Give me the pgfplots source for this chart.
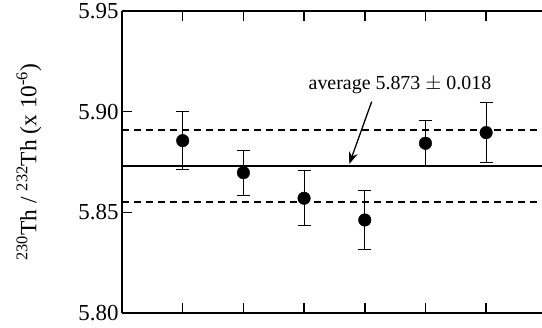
\documentclass[border=0pt]{standalone}
\usepackage{pgfplots}
\pgfplotsset{compat=1.18}
\usetikzlibrary{arrows.meta}
\usepackage{fontspec}
\setmainfont{Liberation Serif}
\begin{document}
\begin{tikzpicture}
\begin{axis}[
  scale only axis, width=420bp, height=302bp,
  xmin=0, xmax=6.92, ymin=5.80, ymax=5.95,
  axis x line*=box, axis y line*=left,
  axis line style={line width=1.6pt},
  xtick={1,2,3,4,5,6}, xticklabels={},
  ytick={5.80,5.85,5.90,5.95},
  tick align=inside, major tick length=10bp,
  tick style={line width=1.6pt, black},
  /pgf/number format/assume math mode=true,
  yticklabel style={font=\fontsize{23}{27}\selectfont, /pgf/number format/.cd, fixed, fixed zerofill, precision=2},
  ylabel={\textsuperscript{230}Th / \textsuperscript{232}Th (x 10\textsuperscript{-6})},
  ylabel style={at={(axis description cs:-0.2214,0.5)}, anchor=center, font=\fontsize{23.5}{28}\selectfont},
  clip=false,
]
\addplot[black, line width=1.5pt] coordinates {(0,5.873) (6.92,5.873)};
\addplot[black, line width=1.6pt, dash pattern=on 7bp off 5bp] coordinates {(0,5.891) (6.92,5.891)};
\addplot[black, line width=1.6pt, dash pattern=on 7bp off 5bp] coordinates {(0,5.855) (6.92,5.855)};
\addplot[only marks, mark=*, mark size=6.3bp, black,
  error bars/.cd, y dir=both, y explicit,
  error bar style={line width=0.8pt},
  error mark options={rotate=90, mark size=6.5bp, line width=0.8pt}]
coordinates {
(1,5.8856) += (0,0.0147) -= (0,0.0141)
(2,5.8697) += (0,0.0111) -= (0,0.0111)
(3,5.8570) += (0,0.0137) -= (0,0.0134)
(4,5.8462) += (0,0.0145) -= (0,0.0144)
(5,5.8843) += (0,0.0112) -= (0,0.0111)
(6,5.8896) += (0,0.0149) -= (0,0.0148)
};
\node[anchor=base, font=\fontsize{20}{24}\selectfont] at (axis cs:4.58,5.9108) {average 5.873 $\pm$ 0.018};
\draw[-{Stealth[length=12bp,width=9bp]}, line width=1.3pt] (axis cs:4.114,5.905) -- (axis cs:3.745,5.874);
\end{axis}
\pgfresetboundingbox
\path (-122bp,-15bp) rectangle (420bp,313bp);
\end{tikzpicture}
\end{document}
